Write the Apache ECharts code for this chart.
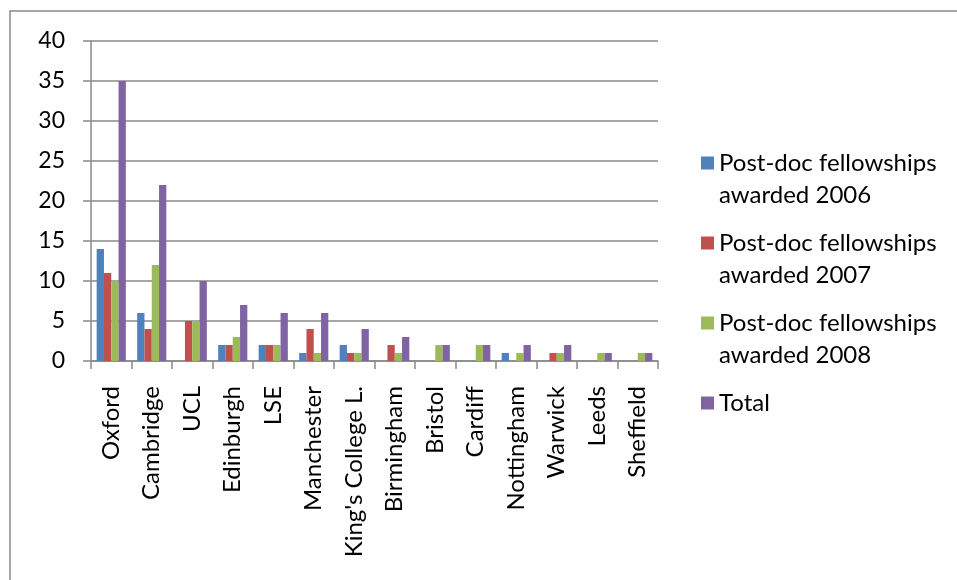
<!DOCTYPE html>
<html>
<head>
<meta charset="utf-8">
<script src="https://cdn.jsdelivr.net/npm/echarts@6/dist/echarts.min.js"></script>
<style>
  html, body { margin: 0; padding: 0; background: #fff; }
  #chart { width: 957px; height: 580px; }
</style>
</head>
<body>
<div id="chart"></div>
<script>
const categories = ['Oxford', 'Cambridge', 'UCL', 'Edinburgh', 'LSE', 'Manchester', "King's College L.", 'Birmingham', 'Bristol', 'Cardiff', 'Nottingham', 'Warwick', 'Leeds', 'Sheffield'];
const awarded2006 = [14, 6, 0, 2, 2, 1, 2, 0, 0, 0, 1, 0, 0, 0];
const awarded2007 = [11, 4, 5, 2, 2, 4, 1, 2, 0, 0, 0, 1, 0, 0];
const awarded2008 = [10, 12, 5, 3, 2, 1, 1, 1, 2, 2, 1, 1, 1, 1];
const total = [35, 22, 10, 7, 6, 6, 4, 3, 2, 2, 2, 2, 1, 1];
const seriesNames = ['Post-doc fellowships awarded 2006', 'Post-doc fellowships awarded 2007', 'Post-doc fellowships awarded 2008', 'Total'];
const seriesData = [awarded2006, awarded2007, awarded2008, total];
const colors = ['#4F81BD', '#C0504D', '#9BBB59', '#8064A2'];

const FONT = 'Lato';
const GRAY = '#898989';

const chart = echarts.init(document.getElementById('chart'));
chart.setOption({
  animation: false,
  backgroundColor: '#fff',
  color: colors,
  graphic: [{
    type: 'rect',
    shape: { x: 10, y: 11, width: 1200, height: 1200 },
    style: { fill: 'none', stroke: GRAY, lineWidth: 1.5 },
    silent: true
  }],
  grid: { left: 91, right: 299, top: 41, bottom: 219, containLabel: false },
  legend: {
    orient: 'vertical',
    left: 701,
    top: 115,
    padding: 0,
    itemWidth: 13,
    itemHeight: 13,
    itemGap: -16,
    icon: 'rect',
    formatter: n => {
      const parts = n.split(' awarded ');
      return parts.length > 1 ? '\n' + parts[0] + '\nawarded ' + parts[1] : '\n' + n + '\n ';
    },
    textStyle: { fontFamily: FONT, fontSize: 24, lineHeight: 32, color: '#000' },
    data: seriesNames
  },
  xAxis: {
    type: 'category',
    data: categories,
    axisLine: { show: true, lineStyle: { color: GRAY, width: 1.5 } },
    axisTick: { show: true, length: 8, alignWithLabel: false, lineStyle: { color: GRAY, width: 1.5 } },
    axisLabel: { interval: 0, rotate: 90, margin: 25, fontFamily: FONT, fontSize: 24, color: '#000' },
    splitLine: { show: false }
  },
  yAxis: {
    type: 'value',
    min: 0, max: 40, interval: 5,
    axisLine: { show: true, lineStyle: { color: GRAY, width: 1.5 } },
    axisTick: { show: true, length: 8, lineStyle: { color: GRAY, width: 1.5 } },
    axisLabel: { margin: 26, fontFamily: FONT, fontSize: 23, color: '#000' },
    splitLine: { show: true, lineStyle: { color: GRAY, width: 1.5 } }
  },
  series: seriesNames.map((name, i) => ({
    name: name,
    type: 'bar',
    data: seriesData[i],
    barGap: '0%',
    barCategoryGap: '28%',
    itemStyle: { color: colors[i] }
  }))
});
</script>
</body>
</html>
